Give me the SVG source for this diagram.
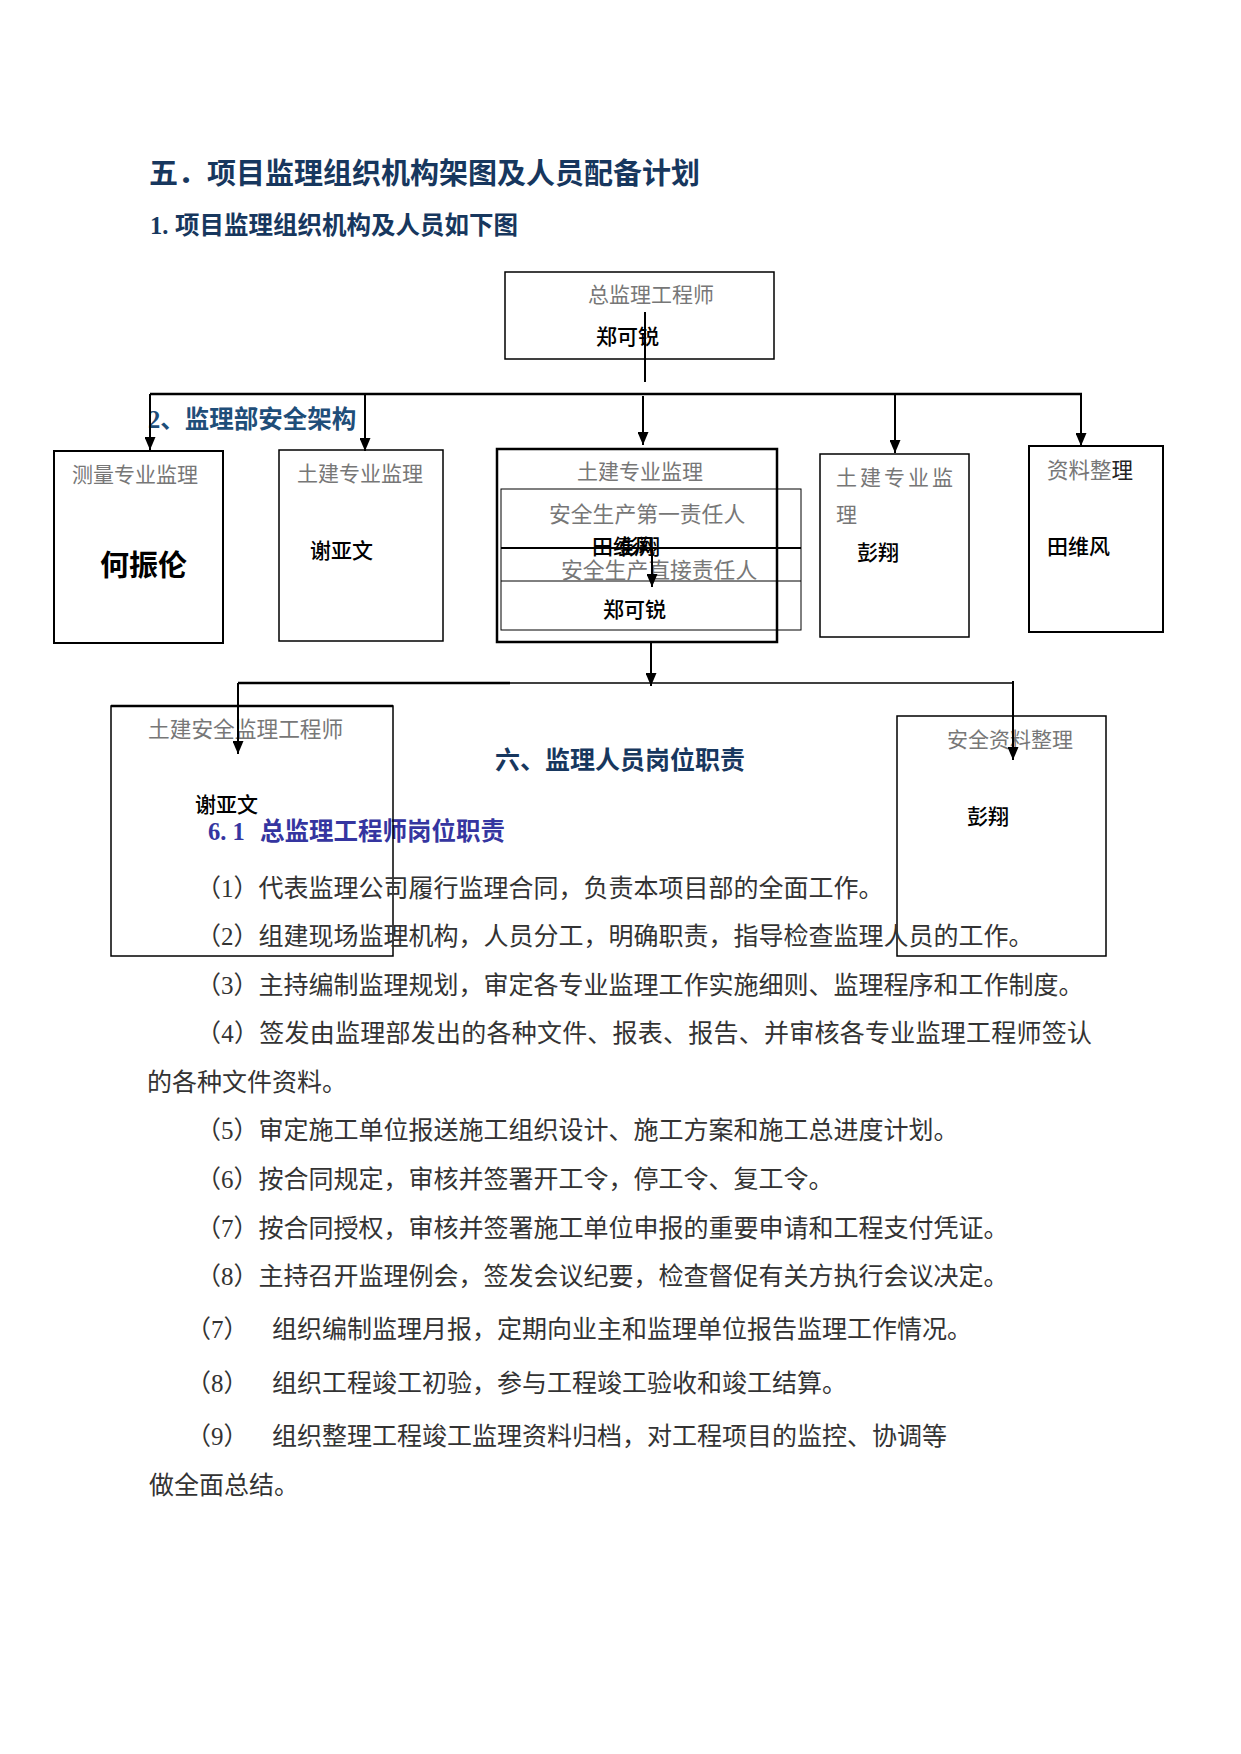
<svg xmlns="http://www.w3.org/2000/svg" width="1241" height="1754" viewBox="0 0 1241 1754">
<defs>
<marker id="ah" viewBox="0 0 13 11" refX="13" refY="5.5" markerWidth="13" markerHeight="11" orient="auto" markerUnits="userSpaceOnUse"><path d="M0,0 L13,5.5 L0,11 z" fill="#000"/></marker>
<style>
.h{font-family:"Liberation Serif","Noto Sans CJK SC",serif;font-weight:bold;fill:#17375e}
.lbl{font-family:"Noto Sans CJK SC",sans-serif;font-size:21px;fill:#777}
.nm{font-family:"Noto Sans CJK SC",sans-serif;font-size:21px;fill:#000;font-weight:500}
.body{font-family:"Liberation Serif","Noto Sans CJK SC",serif;font-size:25px;fill:#333}
.box{fill:none;stroke:#000;stroke-width:1.5}
.ln{fill:none;stroke:#000;stroke-width:2}
.arr{fill:none;stroke:#000;stroke-width:2;marker-end:url(#ah)}
</style>
</defs>
<rect width="1241" height="1754" fill="#fff"/>

<g id="headings">
<text class="h" x="149" y="184" font-size="29">五．项目监理组织机构架图及人员配备计划</text>
<text class="h" x="150" y="234" font-size="24.5">1. <tspan x="175">项目监理组织机构及人员如下图</tspan></text>
<text class="h" x="148" y="428" font-size="24.5" style="fill:#1f4e79">2、监理部安全架构</text>
<text class="h" x="495" y="769" font-size="25">六、监理人员岗位职责</text>
<text class="h" x="208" y="840" font-size="24.5" style="fill:#3535a0">6. 1 <tspan x="260">总监理工程师岗位职责</tspan></text>
</g>

<g id="node-chief">
<rect class="box" x="505" y="272" width="269" height="87"/>
<text class="lbl" x="588" y="302">总监理工程师</text>
<text class="nm" x="596" y="344">郑可锐</text>
</g>

<g id="node-survey">
<rect class="box" x="54" y="451" width="169" height="192" style="stroke-width:2"/>
<text class="lbl" x="72" y="482">测量专业监理</text>
<text class="nm" x="100" y="576" style="font-size:29px;font-weight:bold">何振伦</text>
</g>

<g id="node-civil1">
<rect class="box" x="279" y="450" width="164" height="191"/>
<text class="lbl" x="297" y="481">土建专业监理</text>
<text class="nm" x="310" y="558">谢亚文</text>
</g>

<g id="node-civil2">
<rect class="box" x="497" y="449" width="280" height="193" style="stroke-width:2.5"/>
<rect class="box" x="501" y="489" width="300" height="141" style="stroke-width:1"/>
<line x1="501" y1="548" x2="801" y2="548" stroke="#000" stroke-width="2"/>
<line x1="501" y1="581" x2="801" y2="581" stroke="#000" stroke-width="1"/>
<text class="lbl" x="577" y="479">土建专业监理</text>
<text class="lbl" x="549" y="522" style="font-size:21.8px">安全生产第一责任人</text>
<text class="nm" x="592" y="554">田维风</text>
<text class="nm" x="618" y="554">彭翔</text>
<text class="lbl" x="561" y="578" style="font-size:21.8px">安全生产直接责任人</text>
<text class="nm" x="603" y="617">郑可锐</text>
</g>

<g id="node-civil3">
<rect class="box" x="820" y="454" width="149" height="183"/>
<text class="lbl" x="836" y="485" letter-spacing="3">土建专业监</text>
<text class="lbl" x="836" y="522">理</text>
<text class="nm" x="857" y="560">彭翔</text>
</g>

<g id="node-docs">
<rect class="box" x="1029" y="446" width="134" height="186" style="stroke-width:2"/>
<text class="lbl" x="1047" y="478" style="font-size:21.5px">资料整<tspan style="fill:#222">理</tspan></text>
<text class="nm" x="1047" y="554">田维风</text>
</g>

<g id="node-safety-eng">
<rect class="box" x="111" y="706" width="282" height="250"/>
<line x1="111" y1="706" x2="393" y2="706" stroke="#000" stroke-width="2.5"/>
<text class="lbl" x="148" y="737" style="font-size:21.7px">土建安全监理工程师</text>
<text class="nm" x="195" y="812">谢亚文</text>
</g>

<g id="node-safety-docs">
<rect class="box" x="897" y="716" width="209" height="240"/>
<text class="lbl" x="947" y="747">安全资料整理</text>
<text class="nm" x="967" y="824">彭翔</text>
</g>

<g id="connectors">
<path class="ln" d="M645,312 V382"/>
<path class="ln" d="M150,394 H1082" style="stroke-width:2.5"/>
<path class="arr" d="M150,394 V450"/>
<path class="arr" d="M365,394 V451"/>
<path class="arr" d="M643,396 V445"/>
<path class="arr" d="M895,394 V453"/>
<path class="arr" d="M1081,394 V446"/>
<path class="arr" d="M652,548 V587"/>
<path class="arr" d="M651,642 V686"/>
<path class="ln" d="M238,683 H510" style="stroke-width:2.5"/>
<path class="ln" d="M510,683 H1013" style="stroke-width:1.5"/>
<path class="arr" d="M238,683 V754"/>
<path class="arr" d="M1013,681 V760"/>
</g>

<g id="body">
<text class="body" x="196" y="897">（1）代表监理公司履行监理合同，负责本项目部的全面工作。</text>
<text class="body" x="196" y="945">（2）组建现场监理机构，人员分工，明确职责，指导检查监理人员的工作。</text>
<text class="body" x="196" y="994">（3）主持编制监理规划，审定各专业监理工作实施细则、监理程序和工作制度。</text>
<text class="body" x="196" y="1042" textLength="896" lengthAdjust="spacing">（4）签发由监理部发出的各种文件、报表、报告、并审核各专业监理工程师签认</text>
<text class="body" x="147" y="1091">的各种文件资料。</text>
<text class="body" x="196" y="1139">（5）审定施工单位报送施工组织设计、施工方案和施工总进度计划。</text>
<text class="body" x="196" y="1188">（6）按合同规定，审核并签署开工令，停工令、复工令。</text>
<text class="body" x="196" y="1237">（7）按合同授权，审核并签署施工单位申报的重要申请和工程支付凭证。</text>
<text class="body" x="196" y="1285">（8）主持召开监理例会，签发会议纪要，检查督促有关方执行会议决定。</text>
<text class="body" x="186" y="1338">（7）<tspan x="272">组织编制监理月报，定期向业主和监理单位报告监理工作情况。</tspan></text>
<text class="body" x="186" y="1392">（8）<tspan x="272">组织工程竣工初验，参与工程竣工验收和竣工结算。</tspan></text>
<text class="body" x="186" y="1445">（9）<tspan x="272">组织整理工程竣工监理资料归档，对工程项目的监控、协调等</tspan></text>
<text class="body" x="149" y="1494">做全面总结。</text>
</g>
</svg>
